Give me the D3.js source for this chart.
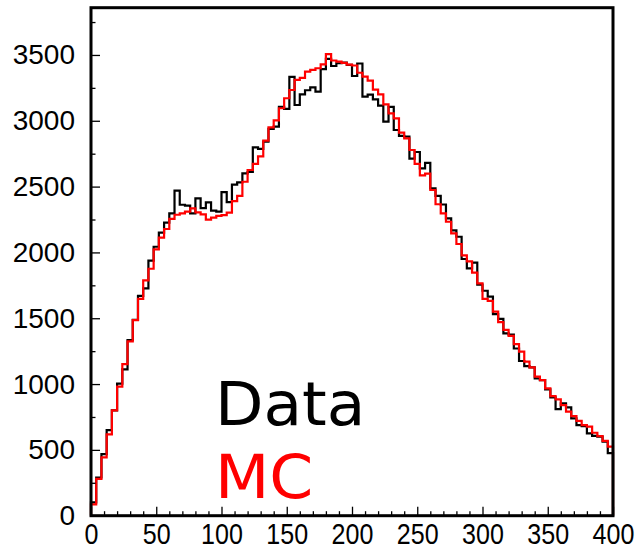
<!DOCTYPE html>
<html>
<head>
<meta charset="utf-8">
<script src="https://cdn.jsdelivr.net/npm/d3@7"></script>
<style>
  html, body { margin: 0; padding: 0; background: #fff; }
  svg { display: block; }
</style>
</head>
<body>
<svg id="chart" width="639" height="549"></svg>
<script>
// ---- data ----
const binEdges = d3.range(0, 401, 4); // 100 bins of width 4, from 0 to 400
const dataValues = [
  101, 290, 468, 650, 800, 1004, 1111, 1333, 1488, 1670,
  1727, 1937, 2043, 2151, 2227, 2297, 2470, 2362, 2355, 2297,
  2411, 2337, 2380, 2318, 2310, 2458, 2382, 2515, 2532, 2600,
  2611, 2798, 2786, 2841, 2938, 2955, 3105, 3090, 3333, 3120,
  3201, 3232, 3254, 3221, 3393, 3470, 3416, 3437, 3442, 3424,
  3340, 3435, 3183, 3199, 3163, 3115, 2993, 3105, 2930, 2886,
  2880, 2713, 2763, 2639, 2680, 2487, 2430, 2364, 2259, 2167,
  2119, 1950, 1879, 1923, 1755, 1709, 1664, 1532, 1495, 1385,
  1376, 1270, 1175, 1137, 1127, 1043, 1030, 960, 899, 810,
  853, 823, 739, 688, 681, 625, 607, 600, 562, 476
];
const mcValues = [
  86, 279, 443, 618, 800, 980, 1152, 1325, 1486, 1647,
  1788, 1876, 2023, 2112, 2178, 2255, 2286, 2297, 2310, 2335,
  2304, 2289, 2249, 2264, 2277, 2284, 2303, 2390, 2430, 2537,
  2626, 2673, 2730, 2850, 2950, 3003, 3095, 3171, 3234, 3310,
  3326, 3373, 3386, 3399, 3428, 3506, 3458, 3449, 3440, 3427,
  3420, 3365, 3335, 3305, 3237, 3200, 3125, 3057, 3019, 2910,
  2867, 2778, 2672, 2585, 2598, 2474, 2366, 2297, 2233, 2145,
  2064, 1978, 1932, 1847, 1765, 1647, 1632, 1550, 1470, 1412,
  1366, 1303, 1246, 1170, 1127, 1056, 1030, 967, 909, 884,
  840, 790, 757, 721, 688, 676, 630, 605, 568, 524
];
const xMajorTicks = [0, 50, 100, 150, 200, 250, 300, 350, 400];
const yMajorTicks = [0, 500, 1000, 1500, 2000, 2500, 3000, 3500];
const legendLabels = ["Data", "MC"];
const legendColors = ["#000000", "#ff0000"];

// ---- layout ----
const plotLeft = 91, plotRight = 613, plotTop = 7.7, plotBottom = 515.7;
const svg = d3.select("#chart");

const x = d3.scaleLinear().domain([0, 400]).range([plotLeft, plotRight]);
const y = d3.scaleLinear().domain([0, 3859]).range([plotBottom, plotTop]);

function histPoints(vals) {
  const pts = [[binEdges[0], 0]];
  vals.forEach((v, i) => {
    pts.push([binEdges[i], v]);
    pts.push([binEdges[i + 1], v]);
  });
  pts.push([binEdges[binEdges.length - 1], 0]);
  return pts;
}
const line = d3.line().x(d => x(d[0])).y(d => y(d[1]));

// histograms
svg.append("path")
  .attr("d", line(histPoints(dataValues)))
  .attr("fill", "none")
  .attr("stroke", legendColors[0])
  .attr("stroke-width", 2.2)
  .attr("stroke-linejoin", "miter");

svg.append("path")
  .attr("d", line(histPoints(mcValues)))
  .attr("fill", "none")
  .attr("stroke", legendColors[1])
  .attr("stroke-width", 2.2)
  .attr("stroke-linejoin", "miter");

// axes (ticks pointing inside)
const yMinorTicks = d3.range(0, 3860, 250).filter(v => v % 500 !== 0);
const xMinorTicks = d3.range(0, 401, 10).filter(v => v % 50 !== 0);

const gyMinor = svg.append("g").attr("transform", `translate(${plotLeft},0)`)
  .call(d3.axisLeft(y).tickValues(yMinorTicks).tickSize(-4.5).tickFormat(""));
const gy = svg.append("g").attr("transform", `translate(${plotLeft},0)`)
  .call(d3.axisLeft(y).tickValues(yMajorTicks).tickSize(-9).tickPadding(16).tickFormat(d3.format("d")));

const gxMinor = svg.append("g").attr("transform", `translate(0,${plotBottom})`)
  .call(d3.axisBottom(x).tickValues(xMinorTicks).tickSize(-4.5).tickFormat(""));
const gx = svg.append("g").attr("transform", `translate(0,${plotBottom})`)
  .call(d3.axisBottom(x).tickValues(xMajorTicks).tickSize(-9).tickPadding(7).tickFormat(d3.format("d")));

[gyMinor, gy, gxMinor, gx].forEach(g => {
  g.select(".domain").remove();
  g.selectAll(".tick line").attr("stroke", "#000").attr("stroke-width", 1.3);
});
gy.selectAll(".tick text")
  .attr("font-family", "'Liberation Sans', Arimo, Helvetica, Arial, sans-serif")
  .attr("font-size", 28)
  .attr("fill", "#000");
gx.selectAll(".tick text")
  .attr("font-family", "'Liberation Sans', Arimo, Helvetica, Arial, sans-serif")
  .attr("font-size", 29.5)
  .attr("fill", "#000")
  .attr("transform", "scale(0.85,1)");

// frame
svg.append("rect")
  .attr("x", plotLeft).attr("y", plotTop)
  .attr("width", plotRight - plotLeft).attr("height", plotBottom - plotTop)
  .attr("fill", "none")
  .attr("stroke", "#000")
  .attr("stroke-width", 3);

// legend text
const legendY = [425, 498];
const legendX = 215;
svg.selectAll("text.legend")
  .data(legendLabels)
  .join("text")
  .attr("class", "legend")
  .attr("transform", (d, i) => `translate(${legendX},${legendY[i]}) scale(1.05,1)`)
  .attr("font-family", "'DejaVu Sans', Verdana, sans-serif")
  .attr("font-size", 60)
  .attr("fill", (d, i) => legendColors[i])
  .text(d => d);
</script>
</body>
</html>
